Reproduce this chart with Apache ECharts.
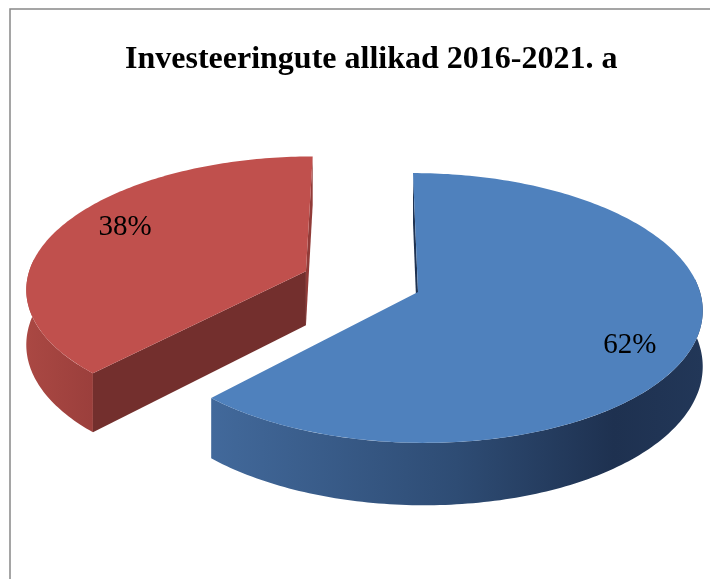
<!DOCTYPE html>
<html>
<head>
<meta charset="utf-8">
<script src="https://cdn.jsdelivr.net/npm/echarts@6/dist/echarts.min.js"></script>
<style>
  html, body { margin: 0; padding: 0; background: #ffffff; }
  #chart { width: 710px; height: 579px; }
</style>
</head>
<body>
<div id="chart"></div>
<script>
// ---- data ----
const titleText = 'Investeeringute allikad 2016-2021. a';
const categories = ['Allikas 1', 'Allikas 2'];
const values = [62, 38];
const explodeAmount = [0, 0.432];

// ---- styles (not data) ----
const topColors = ['#4F81BD', '#C0504D'];
const wallStops = [
  [[0, '#42699B'], [0.5, '#2E4C74'], [0.82, '#1E3150'], [1, '#223758']],
  [[0, '#AA4843'], [1, '#9B3F3C']]
];
const startFaceColors = ['#1F3352', '#732F2D'];
const endFaceColors = ['#1F3352', '#913B38'];
const labelOffsets = [[7, 15], [4, -10]];

// ---- 3D projection settings ----
const CX = 418, CY = 292, RX = 282, RY = 133, PERSP = 0.1185, OX = -0.168, HEIGHT = 55;
const CAM = [OX, -1 / PERSP];

function proj(X, Z, down) {
  const w = 1 + PERSP * Z;
  return [CX + RX * ((X - OX) / w + OX), CY - RY * Z / w + (down ? HEIGHT / w : 0)];
}

const total = values.reduce((a, b) => a + b, 0);

function renderItem(params, api) {
  const i = params.dataIndex;
  const v = api.value(0);
  let cum = 0;
  for (let k = 0; k < i; k++) cum += values[k];
  const a0 = cum / total * Math.PI * 2;
  const a1 = (cum + v) / total * Math.PI * 2;
  const mid = (a0 + a1) / 2;
  const d = explodeAmount[i];
  const c = [d * Math.sin(mid), d * Math.cos(mid)];
  const pt = (t, r, down) => proj(c[0] + r * Math.sin(t), c[1] + r * Math.cos(t), down);

  const arc = (s, e, down) => {
    const n = Math.max(2, Math.ceil(Math.abs(e - s) / (Math.PI / 180)));
    const out = [];
    for (let k = 0; k <= n; k++) out.push(pt(s + (e - s) * k / n, 1, down));
    return out;
  };

  const children = [];

  // outer wall: only the front-facing portion
  const lim = Math.acos(0.1);
  const ws = Math.max(a0, lim), we = Math.min(a1, Math.PI * 2 - lim);
  if (we > ws) {
    const topA = arc(ws, we, false);
    const botA = arc(ws, we, true).reverse();
    children.push({
      type: 'polygon',
      shape: { points: topA.concat(botA) },
      style: {
        fill: { type: 'linear', x: 0, y: 0, x2: 1, y2: 0,
          colorStops: wallStops[i].map(s => ({ offset: s[0], color: s[1] })) }
      }
    });
  }

  // cut faces
  const faces = [
    { t: a0, n: a0 - Math.PI / 2, color: startFaceColors[i] },
    { t: a1, n: a1 + Math.PI / 2, color: endFaceColors[i] }
  ];
  faces.forEach(f => {
    const nx = Math.sin(f.n), nz = Math.cos(f.n);
    const dot = (CAM[0] - c[0]) * nx + (CAM[1] - c[1]) * nz;
    if (dot > 0) {
      children.push({
        type: 'polygon',
        shape: { points: [pt(0, 0, false), pt(f.t, 1, false), pt(f.t, 1, true), pt(0, 0, true)] },
        style: { fill: f.color }
      });
    }
  });

  // top face
  children.push({
    type: 'polygon',
    shape: { points: [pt(0, 0, false)].concat(arc(a0, a1, false)) },
    style: { fill: topColors[i] }
  });

  // label
  const lp = pt(mid, 0.75, false);
  children.push({
    type: 'text',
    x: lp[0] + labelOffsets[i][0],
    y: lp[1] + labelOffsets[i][1],
    style: {
      text: Math.round(v / total * 100) + '%',
      fill: '#000000',
      font: '29px "Liberation Serif"',
      align: 'center',
      verticalAlign: 'middle'
    }
  });

  return { type: 'group', children: children };
}

const chart = echarts.init(document.getElementById('chart'));
chart.setOption({
  animation: false,
  backgroundColor: '#ffffff',
  title: {
    text: titleText,
    left: 125,
    top: 44,
    padding: 0,
    textStyle: {
      fontFamily: 'Liberation Serif',
      fontWeight: 'bold',
      fontSize: 32,
      color: '#000000'
    }
  },
  graphic: [{
    type: 'rect',
    z: -10,
    shape: { x: 10, y: 9, width: 760, height: 640 },
    style: { fill: 'none', stroke: '#888888', lineWidth: 1.5 }
  }],
  series: [{
    type: 'custom',
    coordinateSystem: 'none',
    renderItem: renderItem,
    data: values.map((v, k) => ({ name: categories[k], value: [v] }))
  }]
});
</script>
</body>
</html>
